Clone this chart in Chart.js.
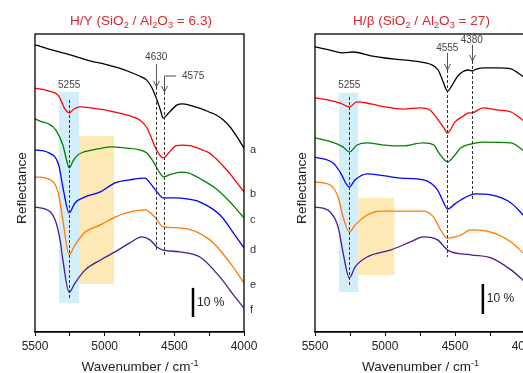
<!DOCTYPE html>
<html>
<head>
<meta charset="utf-8">
<script src="https://cdn.jsdelivr.net/npm/chart.js@4.4.0/dist/chart.umd.min.js"></script>
<style>
	html, body { margin: 0; padding: 0; background: #fff; overflow: hidden; }
	#wrap { position: relative; width: 523px; height: 373px; overflow: hidden; }
	#wrap canvas { position: absolute; top: 0; }
	#chart-y { left: 0; }
	#chart-beta { left: 270px; }
</style>
</head>
<body>
<div id="wrap">
	<canvas id="chart-y" width="270" height="373"></canvas>
	<canvas id="chart-beta" width="280" height="373"></canvas>
</div>
<script>
/* ==========================================================================
 Data  (wavenumber / cm-1, reflectance in % with offsets)
 ========================================================================== */

const xTickValues = [5500, 5000, 4500, 4000];
const seriesLetters = ['a', 'b', 'c', 'd', 'e', 'f'];
const seriesColors = ['#000000', '#ff0000', '#008000', '#0000ff', '#ff7a00', '#4b1a8f'];

// H/Y
const hyA = [[5500,95.7],[5400,94.3],[5300,93.0],[5200,91.7],[5100,90.3],[5000,89.3],[4900,88.0],[4800,86.3],[4750,85.3],[4700,84.0],[4660,81.3],[4630,78.0],[4600,74.0],[4580,71.3],[4560,72.0],[4520,74.0],[4480,75.7],[4440,76.0],[4400,75.7],[4350,75.0],[4300,74.3],[4250,73.3],[4200,72.3],[4150,70.7],[4100,68.3],[4050,65.0],[4000,61.3]];
const hyB = [[5500,81.3],[5400,80.3],[5330,78.7],[5290,74.7],[5255,73.0],[5220,74.3],[5180,75.0],[5100,74.7],[5000,74.0],[4900,73.0],[4800,71.7],[4750,70.7],[4700,68.3],[4650,63.0],[4620,60.0],[4580,58.0],[4540,59.7],[4490,62.0],[4440,62.3],[4380,62.0],[4300,60.7],[4250,59.7],[4200,57.7],[4150,55.3],[4100,52.7],[4050,49.7],[4000,46.7]];
const hyC = [[5500,71.0],[5450,70.0],[5400,69.3],[5350,67.3],[5300,62.3],[5270,56.7],[5255,54.7],[5230,56.7],[5200,58.7],[5150,60.0],[5050,61.0],[4950,61.7],[4850,61.3],[4750,60.7],[4700,59.7],[4650,56.7],[4600,52.7],[4575,51.7],[4540,52.3],[4450,53.3],[4400,53.0],[4300,50.7],[4200,47.7],[4100,43.3],[4050,40.7],[4000,38.0]];
const hyD = [[5500,60.7],[5400,59.7],[5330,55.7],[5300,48.3],[5255,39.7],[5213,43.0],[5140,45.0],[5030,46.7],[4925,49.7],[4820,50.7],[4710,51.3],[4675,49.7],[4625,46.7],[4580,44.7],[4500,44.7],[4400,44.3],[4316,43.3],[4172,39.0],[4065,32.3],[4000,28.0]];
const hyE = [[5500,51.7],[5390,50.7],[5335,46.7],[5300,37.3],[5255,25.7],[5213,29.0],[5140,33.3],[5030,35.7],[4925,38.3],[4818,40.0],[4710,40.7],[4640,38.3],[4580,35.0],[4460,34.7],[4244,30.7],[4100,23.0],[4000,16.3]];
const hyF = [[5500,41.7],[5390,40.0],[5355,37.3],[5320,30.7],[5300,24.0],[5255,13.3],[5213,16.3],[5140,20.7],[5030,24.0],[4925,26.7],[4820,29.7],[4732,31.7],[4675,30.7],[4625,28.3],[4580,27.3],[4460,26.7],[4316,25.0],[4172,18.3],[4065,11.7],[4000,8.0]];

// H/beta
const hbA = [[5500,95.0],[5400,94.0],[5300,93.0],[5227,93.3],[5100,92.0],[5000,91.3],[4870,90.7],[4750,90.0],[4680,89.3],[4620,87.3],[4590,84.0],[4553,80.3],[4520,82.3],[4480,85.3],[4445,86.7],[4410,87.3],[4380,87.0],[4340,87.7],[4294,88.0],[4200,88.0],[4100,87.7],[4050,86.3],[4000,84.7]];
const hbB = [[5500,78.0],[5400,77.3],[5320,76.3],[5255,75.0],[5200,76.7],[5100,76.0],[5000,75.0],[4870,74.3],[4750,74.7],[4680,74.0],[4620,70.7],[4580,68.0],[4553,66.3],[4500,70.0],[4440,72.0],[4400,73.0],[4380,73.0],[4300,74.7],[4200,74.0],[4100,73.3],[4000,70.0]];
const hbC = [[5500,64.7],[5380,63.3],[5300,61.7],[5255,60.0],[5200,62.3],[5130,63.0],[5000,62.3],[4870,62.0],[4730,63.0],[4650,62.3],[4620,60.0],[4553,56.7],[4500,59.0],[4460,61.3],[4380,62.7],[4300,63.3],[4100,63.0],[4000,60.0]];
const hbD = [[5500,58.3],[5371,56.3],[5321,53.3],[5255,48.3],[5213,50.7],[5127,52.7],[5000,52.0],[4890,51.3],[4725,50.7],[4624,47.3],[4590,44.0],[4553,41.0],[4500,42.7],[4459,44.0],[4352,46.0],[4244,45.7],[4100,43.0],[4000,38.3]];
const hbE = [[5500,50.0],[5392,49.0],[5335,45.0],[5299,38.3],[5255,33.3],[5213,35.7],[5127,39.0],[5034,40.3],[4900,40.3],[4725,40.3],[4653,38.3],[4603,34.0],[4553,31.3],[4460,32.3],[4388,34.0],[4244,33.3],[4100,30.0],[4000,25.7]];
const hbF = [[5500,41.7],[5392,40.0],[5335,35.0],[5299,26.3],[5255,18.0],[5213,21.7],[5127,25.0],[4962,27.3],[4818,30.0],[4725,31.7],[4624,30.7],[4553,27.3],[4388,25.7],[4244,24.7],[4100,20.7],[4000,16.7]];

/* ==========================================================================
 Helpers
 ========================================================================== */

const FONT = '"Liberation Sans", Arial, sans-serif';

function drawRich(ctx, parts, x, y, size, color) {
	const segs = parts.map(p => {
		const [t, m] = Array.isArray(p) ? p : [p, ''];
		const s = m ? size * 0.68 : size;
		ctx.font = s + 'px ' + FONT;
		return {t, m, s, w: ctx.measureText(t).width};
	});
	const total = segs.reduce((a, s) => a + s.w, 0);
	let cx = x - total / 2;
	ctx.fillStyle = color;
	ctx.textAlign = 'left';
	ctx.textBaseline = 'alphabetic';
	segs.forEach(s => {
		ctx.font = s.s + 'px ' + FONT;
		const dy = s.m === 'sub' ? size * 0.25 : (s.m === 'sup' ? -size * 0.38 : 0);
		ctx.fillText(s.t, cx, y + dy);
		cx += s.w;
	});
}

function line(ctx, x1, y1, x2, y2) {
	ctx.beginPath();
	ctx.moveTo(x1, y1);
	ctx.lineTo(x2, y2);
	ctx.stroke();
}

/* ==========================================================================
 Markers plugin (bands, dashed peaks, arrows, scale bar, frame, texts)
 ========================================================================== */

const markersPlugin = {
	id: 'markers',
	beforeDatasetsDraw(chart, args, o) {
		const {ctx, scales: {x, y}} = chart;
		ctx.save();
		o.bands.forEach(b => {
			const x1 = x.getPixelForValue(b.from), x2 = x.getPixelForValue(b.to);
			const y1 = y.getPixelForValue(b.top), y2 = y.getPixelForValue(b.bottom);
			ctx.fillStyle = b.color;
			ctx.fillRect(x1, y1, x2 - x1, y2 - y1);
		});
		ctx.restore();
	},
	afterDatasetsDraw(chart, args, o) {
		const {ctx, chartArea: area, scales: {x, y}} = chart;
		ctx.save();

		// Dashed peak lines
		ctx.setLineDash([3, 2]);
		ctx.strokeStyle = '#333';
		ctx.lineWidth = 1;
		o.dashes.forEach(d => {
			const px = Math.round(x.getPixelForValue(d.x)) + 0.5;
			line(ctx, px, y.getPixelForValue(d.top), px, y.getPixelForValue(d.bottom));
		});
		ctx.setLineDash([]);

		// Arrows and peak labels
		ctx.strokeStyle = '#555';
		ctx.fillStyle = '#444';
		ctx.font = '10px ' + FONT;
		ctx.textBaseline = 'middle';
		o.arrows.forEach(a => {
			const px = Math.round(x.getPixelForValue(a.x)) + 0.5;
			if (a.from !== undefined) {
				const y1 = y.getPixelForValue(a.from), y2 = y.getPixelForValue(a.to);
				line(ctx, px, y1, px, y2);
				ctx.beginPath();
				ctx.moveTo(px - 3, y2 - 6);
				ctx.lineTo(px, y2);
				ctx.lineTo(px + 3, y2 - 6);
				ctx.stroke();
				if (a.leader !== undefined) {
					line(ctx, px, y1, x.getPixelForValue(a.leader), y1);
				}
			}
			ctx.textAlign = a.align || 'center';
			ctx.fillText(a.text, x.getPixelForValue(a.tx), y.getPixelForValue(a.ty));
		});

		// Scale bar
		const sb = o.scaleBar;
		const sx = x.getPixelForValue(sb.x);
		ctx.strokeStyle = '#000';
		ctx.lineWidth = 2.5;
		line(ctx, sx, y.getPixelForValue(sb.top), sx, y.getPixelForValue(sb.bottom));
		ctx.fillStyle = '#222';
		ctx.font = '12px ' + FONT;
		ctx.textAlign = 'left';
		ctx.fillText('10 %', sx + 4, y.getPixelForValue((sb.top + sb.bottom) / 2));

		// Frame
		ctx.strokeStyle = '#000';
		ctx.lineWidth = 1.3;
		ctx.strokeRect(area.left, area.top, area.right - area.left, area.bottom - area.top);

		// Series letters
		ctx.fillStyle = '#333';
		ctx.font = '11px ' + FONT;
		chart.data.datasets.forEach((ds, i) => {
			const last = ds.data[ds.data.length - 1];
			ctx.fillText(seriesLetters[i], area.right + 6, y.getPixelForValue(last.y) + 2);
		});

		// Titles
		const cx = (area.left + area.right) / 2 + 1.5;
		drawRich(ctx, o.title, cx, 25, 13.6, '#d7282f');
		drawRich(ctx, ['Wavenumber / cm', ['-1', 'sup']], cx - 1, 371, 13.5, '#222');

		ctx.translate(area.left - 13, (area.top + area.bottom) / 2 + 5);
		ctx.rotate(-Math.PI / 2);
		ctx.font = '13.6px ' + FONT;
		ctx.fillStyle = '#222';
		ctx.textAlign = 'center';
		ctx.textBaseline = 'middle';
		ctx.fillText('Reflectance', 0, 0);
		ctx.restore();
	}
};

/* ==========================================================================
 Config
 ========================================================================== */

function makeConfig(series, padding, markers) {
	return {
		type: 'line',
		data: {
			datasets: series.map((s, i) => ({
				data: s.map(([wn, r]) => ({x: wn, y: r})),
				borderColor: seriesColors[i],
				borderWidth: 1.3,
				pointRadius: 0,
				cubicInterpolationMode: 'monotone',
				fill: false,
			})),
		},
		options: {
			responsive: false,
			animation: false,
			layout: {padding: padding},
			scales: {
				x: {
					type: 'linear',
					min: 4000,
					max: 5500,
					reverse: true,
					afterFit(scale) { scale.height = 41; },
					border: {display: true, color: '#000', width: 1.3},
					grid: {drawOnChartArea: false, drawTicks: true, tickLength: 4, color: '#000'},
					ticks: {
						stepSize: 250,
						autoSkip: false,
						maxRotation: 0,
						padding: 3,
						color: '#222',
						font: {size: 12, family: FONT},
						callback: v => xTickValues.includes(v) ? String(v) : '',
					},
				},
				y: {
					display: false,
					min: 0,
					max: 99.3,
				},
			},
			plugins: {
				legend: {display: false},
				tooltip: {enabled: false},
				markers: markers,
			},
		},
		plugins: [markersPlugin],
	};
}

/* ==========================================================================
 Render
 ========================================================================== */

new Chart(document.getElementById('chart-y'), makeConfig(
	[hyA, hyB, hyC, hyD, hyE, hyF],
	{left: 35, right: 26, top: 34, bottom: 0},
	{
		title: ['H/Y (SiO', ['2', 'sub'], ' / Al', ['2', 'sub'], 'O', ['3', 'sub'], ' = 6.3)'],
		bands: [
			{from: 5328, to: 5184, top: 80.0, bottom: 9.7, color: '#d2eefa'},
			{from: 5184, to: 4933, top: 65.3, bottom: 16.0, color: '#fde9b6'},
		],
		dashes: [
			{x: 5255, top: 77.3, bottom: 10.7},
			{x: 4630, top: 81.7, bottom: 27.3},
			{x: 4575, top: 80.0, bottom: 25.3},
		],
		arrows: [
			{x: 5255, text: '5255', tx: 5255, ty: 82.3},
			{x: 4630, from: 89.3, to: 81.7, text: '4630', tx: 4630, ty: 91.7},
			{x: 4575, from: 85.3, to: 80.0, leader: 4488, text: '4575', tx: 4445, ty: 85.3, align: 'left'},
		],
		scaleBar: {x: 4366, top: 14.7, bottom: 5.0},
	}
));

new Chart(document.getElementById('chart-beta'), makeConfig(
	[hbA, hbB, hbC, hbD, hbE, hbF],
	{left: 45, right: 25, top: 34, bottom: 0},
	{
		title: ['H/\u03b2 (SiO', ['2', 'sub'], ' / Al', ['2', 'sub'], 'O', ['3', 'sub'], ' = 27)'],
		bands: [
			{from: 5328, to: 5191, top: 79.7, bottom: 13.3, color: '#d2eefa'},
			{from: 5191, to: 4933, top: 44.7, bottom: 19.0, color: '#fde9b6'},
		],
		dashes: [
			{x: 5255, top: 78.3, bottom: 15.3},
			{x: 4555, top: 87.3, bottom: 25.0},
			{x: 4380, top: 90.3, bottom: 44.0},
		],
		arrows: [
			{x: 5255, text: '5255', tx: 5255, ty: 82.3},
			{x: 4555, from: 93.0, to: 87.3, text: '4555', tx: 4555, ty: 94.7},
			{x: 4380, from: 95.7, to: 90.3, text: '4380', tx: 4380, ty: 97.3},
		],
		scaleBar: {x: 4301, top: 16.0, bottom: 6.0},
	}
));
</script>
</body>
</html>
